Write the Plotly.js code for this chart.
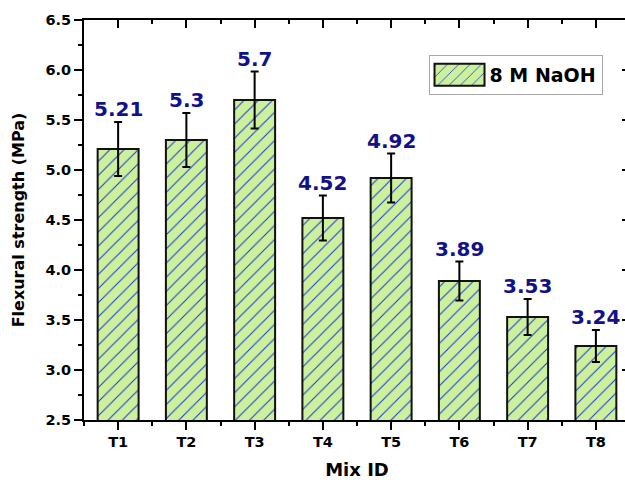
<!DOCTYPE html>
<html>
<head>
<meta charset="utf-8">
<script src="https://cdn.plot.ly/plotly-3.0.1.min.js"></script>
<style>
  html, body { margin: 0; padding: 0; overflow: hidden; background: #fff; }
  #chart { width: 640px; height: 484px; }
</style>
</head>
<body>
<div id="chart"></div>
<script>
// Flexural strength of the mixes activated with 8 M NaOH
const mixIds = ['T1', 'T2', 'T3', 'T4', 'T5', 'T6', 'T7', 'T8'];
const strength = [5.21, 5.3, 5.7, 4.52, 4.92, 3.89, 3.53, 3.24];
const strengthErr = [0.27, 0.27, 0.285, 0.225, 0.245, 0.195, 0.18, 0.16];
const seriesName = '8 M NaOH';

const FONT = 'DejaVu Sans, Arial, sans-serif';
const barFill = '#cdf09c';
const hatchColor = '#1638e0';
const labelColor = '#11118a';

const xPos = mixIds.map((_, i) => i);

const bars = {
  type: 'bar',
  name: seriesName,
  x: xPos,
  y: strength,
  width: 0.6,
  marker: {
    color: barFill,
    line: { color: '#111', width: 2 },
    pattern: { shape: '/', fgcolor: hatchColor, bgcolor: barFill, size: 10, solidity: 0.1, fillmode: 'replace' }
  },
  error_y: { type: 'data', array: strengthErr, visible: true, color: '#000', thickness: 2, width: 4 },
  hoverinfo: 'x+y'
};

// carrier for the inward-ticked top and right frame axes
const frame = {
  type: 'scatter', mode: 'none', x: xPos, y: strength,
  xaxis: 'x2', yaxis: 'y2', showlegend: false, hoverinfo: 'skip'
};

const valueLabels = strength.map((v, i) => ({
  x: i, y: v + strengthErr[i], xref: 'x', yref: 'y',
  text: String(v), showarrow: false, yanchor: 'bottom', yshift: -1,
  font: { family: FONT, size: 20, color: labelColor, weight: 'bold' }
}));

const tickFont = { family: FONT, size: 14.5, color: '#000', weight: 'bold' };
const xRange = [-0.5, mixIds.length - 0.5];
const yRange = [2.5, 6.5];

const layout = {
  width: 640, height: 484,
  margin: { l: 84, r: 10, t: 20, b: 64 },
  paper_bgcolor: '#fff', plot_bgcolor: '#fff',
  showlegend: true,
  bargap: 0.4,
  xaxis: {
    type: 'linear', range: xRange, fixedrange: true,
    tickmode: 'array', tickvals: xPos, ticktext: mixIds,
    ticks: 'outside', ticklen: 8, tickwidth: 2, tickcolor: '#000',
    minor: { tickmode: 'linear', tick0: 0.5, dtick: 1, ticks: 'outside', ticklen: 4, tickwidth: 2, tickcolor: '#000' },
    showline: true, linewidth: 2, linecolor: '#000',
    showgrid: false, zeroline: false,
    tickfont: tickFont,
    title: { text: 'Mix ID', font: { family: FONT, size: 18, color: '#000', weight: 'bold' }, standoff: 14 }
  },
  yaxis: {
    range: yRange, fixedrange: true,
    tickmode: 'linear', tick0: 2.5, dtick: 0.5, tickformat: '.1f',
    ticks: 'outside', ticklen: 8, tickwidth: 2, tickcolor: '#000',
    minor: { tickmode: 'linear', tick0: 2.5, dtick: 0.25, ticks: 'outside', ticklen: 4, tickwidth: 2, tickcolor: '#000' },
    showline: true, linewidth: 2, linecolor: '#000',
    showgrid: false, zeroline: false,
    tickfont: tickFont,
    title: { text: 'Flexural strength (MPa)', font: { family: FONT, size: 16, color: '#000', weight: 'bold' }, standoff: 17 }
  },
  xaxis2: {
    overlaying: 'x', side: 'top', anchor: 'y', type: 'linear', range: xRange, fixedrange: true,
    tickmode: 'array', tickvals: xPos, showticklabels: false,
    ticks: 'inside', ticklen: 8, tickwidth: 2, tickcolor: '#000',
    minor: { tickmode: 'linear', tick0: 0.5, dtick: 1, ticks: 'inside', ticklen: 4, tickwidth: 2, tickcolor: '#000' },
    showline: true, linewidth: 2, linecolor: '#000', showgrid: false, zeroline: false
  },
  yaxis2: {
    overlaying: 'y', side: 'right', anchor: 'x', range: yRange, fixedrange: true,
    tickmode: 'linear', tick0: 2.5, dtick: 0.5, showticklabels: false,
    ticks: 'inside', ticklen: 8, tickwidth: 2, tickcolor: '#000',
    minor: { tickmode: 'linear', tick0: 2.5, dtick: 0.25, ticks: 'inside', ticklen: 4, tickwidth: 2, tickcolor: '#000' },
    showline: true, linewidth: 2, linecolor: '#000', showgrid: false, zeroline: false
  },
  legend: {
    x: 0.631, y: 0.9125, xanchor: 'left', yanchor: 'top',
    bgcolor: '#fff', bordercolor: '#a8a8a8', borderwidth: 1,
    itemwidth: 50,
    font: { family: FONT, size: 19, color: '#000', weight: 'bold' }
  },
  annotations: valueLabels
};

Plotly.newPlot('chart', [bars, frame], layout, { staticPlot: true, displayModeBar: false }).then(gd => {
  // widen the legend swatch into a wide hatched block
  gd.querySelectorAll('.legend .legendpoints path').forEach(p => {
    p.setAttribute('d', 'M25,11H-25V-11H25Z');
  });
});
</script>
</body>
</html>
